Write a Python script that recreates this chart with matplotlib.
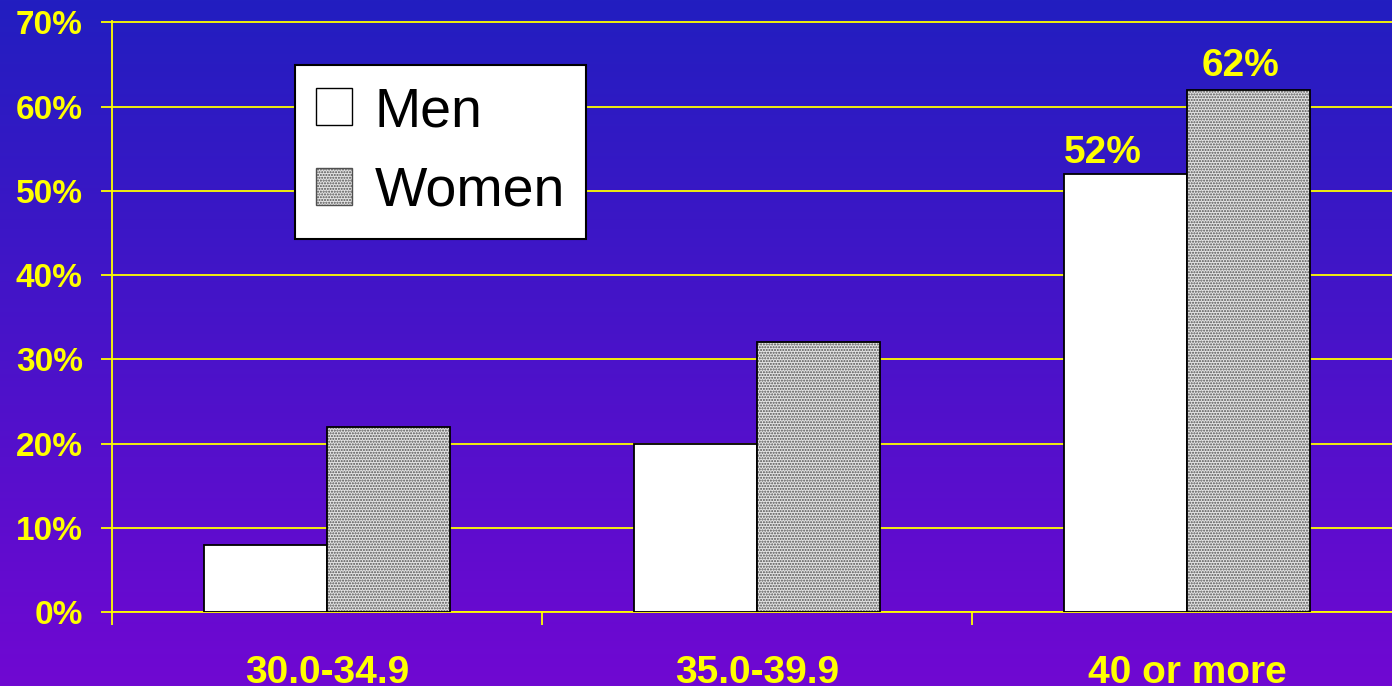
import matplotlib.pyplot as plt
import numpy as np
from matplotlib.patches import Patch

plt.rcParams['font.family'] = ['Liberation Sans', 'DejaVu Sans']
plt.rcParams['hatch.linewidth'] = 1.0

categories = ['30.0-34.9', '35.0-39.9', '40 or more']
men = [8, 20, 52]
women = [22, 32, 62]
labeled = [2]  # groups that carry value labels

yellow = '#ffff00'
stipple_face = '#e4e4e4'
stipple_dots = '#505050'

fig = plt.figure(figsize=(13.92, 6.86), dpi=100)

# blue-to-purple backdrop
bg = fig.add_axes([0, 0, 1, 1], zorder=-10)
top = np.array([34, 30, 192]) / 255
bottom = np.array([112, 8, 210]) / 255
t = np.linspace(0, 1, 256)[:, None]
grad = top * (1 - t) + bottom * t
bg.imshow(grad[:, None, :].repeat(2, axis=1), aspect='auto', extent=[0, 1, 0, 1])
bg.axis('off')

ax = fig.add_axes([112 / 1392, 1 - 612 / 686, 1290 / 1392, 591 / 686])
ax.patch.set_alpha(0)

x = np.arange(len(categories))
w = 0.286
ax.bar(x - w / 2, men, w, color='white', edgecolor='black', linewidth=1.3, zorder=3)
ax.bar(x + w / 2, women, w, color=stipple_face, edgecolor=stipple_dots, hatch='......',
       linewidth=0, zorder=3)
ax.bar(x + w / 2, women, w, fill=False, edgecolor='black', linewidth=1.3, zorder=4)

for i in labeled:
    ax.annotate('%d%%' % men[i], (x[i] - w / 2, men[i]), xytext=(-16, 8),
                textcoords='offset points', color=yellow, fontsize=28, fontweight='bold',
                ha='center', va='baseline')
    ax.annotate('%d%%' % women[i], (x[i] + w / 2, women[i]), xytext=(-6, 10),
                textcoords='offset points', color=yellow, fontsize=28, fontweight='bold',
                ha='center', va='baseline')

ax.set_xlim(-0.5, 2.5)
ax.set_ylim(0, 70.15)
ax.set_yticks(range(0, 71, 10))
ax.set_yticklabels(['%d%%' % v for v in range(0, 71, 10)])
ax.yaxis.grid(True, color=yellow, linewidth=1.3, zorder=1)
ax.set_axisbelow(True)

ax.set_xticks([-0.5, 0.5, 1.5, 2.5])
ax.set_xticklabels([])
ax.set_xticks(x, minor=True)
ax.set_xticklabels(categories, minor=True)
ax.tick_params(axis='x', which='major', length=9, width=1.3, color=yellow, direction='out')
ax.tick_params(axis='x', which='minor', length=0, pad=31, labelsize=28, labelcolor=yellow)
ax.tick_params(axis='y', length=8, width=1.3, color=yellow, pad=13, labelsize=24,
               labelcolor=yellow)
for lab in ax.get_xticklabels(minor=True) + ax.get_yticklabels():
    lab.set_fontweight('bold')

for side in ['top', 'right']:
    ax.spines[side].set_visible(False)
ax.spines['left'].set_color(yellow)
ax.spines['left'].set_linewidth(1.3)
ax.spines['bottom'].set_color(yellow)
ax.spines['bottom'].set_linewidth(1.3)

handles = [Patch(facecolor='white', edgecolor='black', linewidth=1.0),
           Patch(facecolor=stipple_face, edgecolor=stipple_dots, hatch='......', linewidth=1.0)]
leg = ax.legend(handles, ['Men', 'Women'], loc='upper left', bbox_to_anchor=(0.142, 0.9255),
                borderaxespad=0, fontsize=40, handlelength=0.65, handleheight=0.65,
                handletextpad=0.4, labelspacing=0.5, borderpad=0.38, fancybox=False,
                framealpha=1, edgecolor='black')
leg.get_frame().set_linewidth(1.5)
leg.set_zorder(5)

fig.savefig('out.png', dpi=100)
